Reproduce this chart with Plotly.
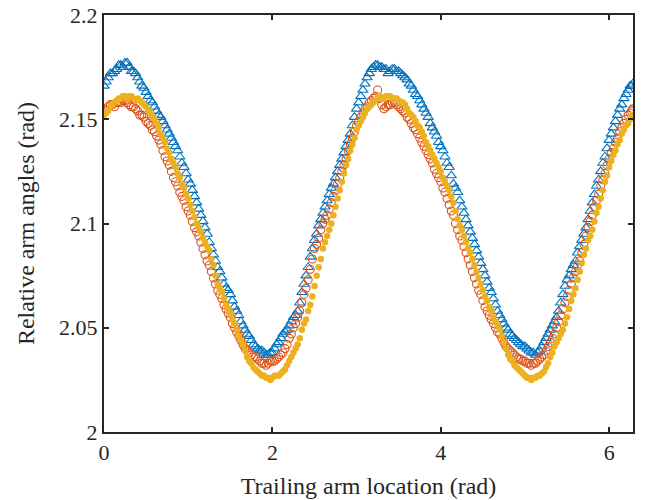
import plotly.graph_objects as go

# Pass 1 samples
ANGLE = [0.00, 0.05, 0.10, 0.15, 0.20, 0.25, 0.30, 0.35, 0.40, 0.45, 0.50, 0.55, 0.60, 0.65, 0.70, 0.75,
         0.80, 0.85, 0.90, 0.95, 1.00, 1.05, 1.10, 1.15, 1.20, 1.25, 1.30, 1.35, 1.40, 1.45, 1.50, 1.55,
         1.60, 1.65, 1.70, 1.75, 1.80, 1.85, 1.90, 1.95, 2.00, 2.05, 2.10, 2.15, 2.20, 2.25, 2.30, 2.35,
         2.40, 2.45, 2.50, 2.55, 2.60, 2.65, 2.70, 2.75, 2.80, 2.85, 2.90, 2.95, 3.00, 3.05, 3.10, 3.15,
         3.20, 3.25, 3.30, 3.35, 3.40, 3.45, 3.50, 3.55, 3.60, 3.65, 3.70, 3.75, 3.80, 3.85, 3.90, 3.95,
         4.00, 4.05, 4.10, 4.15, 4.20, 4.25, 4.30, 4.35, 4.40, 4.45, 4.50, 4.55, 4.60, 4.65, 4.70, 4.75,
         4.80, 4.85, 4.90, 4.95, 5.00, 5.05, 5.10, 5.15, 5.20, 5.25, 5.30, 5.35, 5.40, 5.45, 5.50, 5.55,
         5.60, 5.65, 5.70, 5.75, 5.80, 5.85, 5.90, 5.95, 6.00, 6.05, 6.10, 6.15, 6.20, 6.25, 6.28]

SERIES_BLUE = [2.166, 2.170, 2.172, 2.174, 2.176, 2.177, 2.175, 2.173, 2.170, 2.166, 2.163, 2.159, 2.156, 2.152, 2.149, 2.145,
               2.141, 2.137, 2.132, 2.127, 2.121, 2.116, 2.110, 2.104, 2.098, 2.091, 2.085, 2.079, 2.074, 2.069, 2.066, 2.060,
               2.056, 2.051, 2.047, 2.044, 2.041, 2.039, 2.038, 2.037, 2.038, 2.042, 2.045, 2.048, 2.051, 2.055, 2.058, 2.067,
               2.075, 2.084, 2.092, 2.099, 2.105, 2.111, 2.117, 2.122, 2.128, 2.134, 2.140, 2.147, 2.155, 2.161, 2.167, 2.172,
               2.175, 2.176, 2.175, 2.174, 2.173, 2.174, 2.173, 2.171, 2.169, 2.166, 2.162, 2.159, 2.155, 2.151, 2.146, 2.142,
               2.137, 2.132, 2.127, 2.119, 2.115, 2.108, 2.102, 2.096, 2.090, 2.084, 2.078, 2.072, 2.067, 2.061, 2.056, 2.052,
               2.049, 2.046, 2.044, 2.042, 2.041, 2.039, 2.038, 2.038, 2.041, 2.045, 2.049, 2.053, 2.058, 2.066, 2.073, 2.078,
               2.082, 2.089, 2.095, 2.102, 2.110, 2.118, 2.125, 2.132, 2.140, 2.146, 2.152, 2.157, 2.162, 2.166, 2.167]

SERIES_RED = [2.155, 2.156, 2.157, 2.158, 2.158, 2.159, 2.157, 2.156, 2.154, 2.152, 2.149, 2.147, 2.144, 2.140, 2.135, 2.130,
              2.125, 2.120, 2.115, 2.111, 2.106, 2.101, 2.096, 2.091, 2.085, 2.080, 2.074, 2.068, 2.064, 2.059, 2.055, 2.050,
              2.046, 2.042, 2.039, 2.037, 2.036, 2.034, 2.033, 2.033, 2.034, 2.035, 2.037, 2.040, 2.045, 2.050, 2.055, 2.062,
              2.069, 2.078, 2.088, 2.093, 2.100, 2.104, 2.110, 2.116, 2.122, 2.128, 2.135, 2.141, 2.147, 2.151, 2.155, 2.158,
              2.160, 2.164, 2.157, 2.156, 2.157, 2.158, 2.156, 2.154, 2.151, 2.148, 2.145, 2.141, 2.137, 2.133, 2.129, 2.124,
              2.120, 2.115, 2.109, 2.104, 2.097, 2.092, 2.086, 2.080, 2.074, 2.068, 2.063, 2.058, 2.054, 2.050, 2.047, 2.043,
              2.040, 2.038, 2.036, 2.035, 2.034, 2.033, 2.033, 2.034, 2.036, 2.039, 2.043, 2.047, 2.053, 2.059, 2.065, 2.071,
              2.077, 2.082, 2.090, 2.098, 2.104, 2.111, 2.118, 2.124, 2.131, 2.136, 2.141, 2.146, 2.150, 2.153, 2.155]

SERIES_YELLOW = [2.152, 2.154, 2.157, 2.159, 2.160, 2.161, 2.161, 2.160, 2.160, 2.158, 2.156, 2.153, 2.150, 2.146, 2.141, 2.136,
                 2.131, 2.127, 2.122, 2.117, 2.112, 2.106, 2.100, 2.096, 2.091, 2.087, 2.080, 2.071, 2.067, 2.061, 2.057, 2.052,
                 2.046, 2.042, 2.036, 2.033, 2.030, 2.028, 2.027, 2.026, 2.026, 2.027, 2.028, 2.030, 2.034, 2.038, 2.042, 2.049,
                 2.054, 2.061, 2.070, 2.079, 2.088, 2.094, 2.100, 2.108, 2.116, 2.124, 2.131, 2.138, 2.145, 2.149, 2.153, 2.156,
                 2.158, 2.160, 2.160, 2.161, 2.161, 2.160, 2.159, 2.158, 2.155, 2.152, 2.149, 2.146, 2.142, 2.137, 2.133, 2.129,
                 2.125, 2.120, 2.116, 2.110, 2.102, 2.097, 2.091, 2.086, 2.080, 2.074, 2.068, 2.063, 2.058, 2.053, 2.049, 2.043,
                 2.037, 2.034, 2.031, 2.029, 2.027, 2.026, 2.026, 2.027, 2.028, 2.031, 2.036, 2.041, 2.045, 2.049, 2.055, 2.063,
                 2.069, 2.077, 2.085, 2.092, 2.097, 2.105, 2.112, 2.120, 2.127, 2.133, 2.138, 2.143, 2.147, 2.150, 2.152]

# Pass 2 samples (interleaved positions)
ANGLE_B = [0.025, 0.075, 0.125, 0.175, 0.225, 0.275, 0.325, 0.375, 0.425, 0.475, 0.525, 0.575, 0.625, 0.675, 0.725, 0.775,
           0.825, 0.875, 0.925, 0.975, 1.025, 1.075, 1.125, 1.175, 1.225, 1.275, 1.325, 1.375, 1.425, 1.475, 1.525, 1.575,
           1.625, 1.675, 1.725, 1.775, 1.825, 1.875, 1.925, 1.975, 2.025, 2.075, 2.125, 2.175, 2.225, 2.275, 2.325, 2.375,
           2.425, 2.475, 2.525, 2.575, 2.625, 2.675, 2.725, 2.775, 2.825, 2.875, 2.925, 2.975, 3.025, 3.075, 3.125, 3.175,
           3.225, 3.275, 3.325, 3.375, 3.425, 3.475, 3.525, 3.575, 3.625, 3.675, 3.725, 3.775, 3.825, 3.875, 3.925, 3.975,
           4.025, 4.075, 4.125, 4.175, 4.225, 4.275, 4.325, 4.375, 4.425, 4.475, 4.525, 4.575, 4.625, 4.675, 4.725, 4.775,
           4.825, 4.875, 4.925, 4.975, 5.025, 5.075, 5.125, 5.175, 5.225, 5.275, 5.325, 5.375, 5.425, 5.475, 5.525, 5.575,
           5.625, 5.675, 5.725, 5.775, 5.825, 5.875, 5.925, 5.975, 6.025, 6.075, 6.125, 6.175, 6.225, 6.265]

SERIES_BLUE_B = [2.168, 2.172, 2.173, 2.176, 2.175, 2.177, 2.173, 2.172, 2.168, 2.165, 2.161, 2.158, 2.154, 2.151, 2.147, 2.143,
                 2.139, 2.135, 2.129, 2.124, 2.119, 2.113, 2.107, 2.101, 2.095, 2.088, 2.082, 2.077, 2.071, 2.068, 2.063, 2.058,
                 2.053, 2.049, 2.046, 2.042, 2.040, 2.039, 2.037, 2.038, 2.040, 2.043, 2.047, 2.049, 2.053, 2.056, 2.062, 2.071,
                 2.079, 2.088, 2.095, 2.102, 2.108, 2.114, 2.119, 2.125, 2.131, 2.137, 2.143, 2.151, 2.158, 2.164, 2.170, 2.174,
                 2.176, 2.175, 2.174, 2.172, 2.174, 2.173, 2.172, 2.170, 2.167, 2.164, 2.161, 2.157, 2.153, 2.148, 2.144, 2.139,
                 2.135, 2.129, 2.123, 2.117, 2.111, 2.105, 2.099, 2.093, 2.087, 2.081, 2.075, 2.069, 2.064, 2.058, 2.054, 2.050,
                 2.047, 2.045, 2.043, 2.041, 2.040, 2.038, 2.037, 2.039, 2.043, 2.047, 2.051, 2.055, 2.062, 2.070, 2.075, 2.080,
                 2.086, 2.092, 2.098, 2.106, 2.114, 2.121, 2.129, 2.136, 2.143, 2.149, 2.155, 2.160, 2.164, 2.166]

SERIES_RED_B = [2.154, 2.157, 2.156, 2.158, 2.159, 2.158, 2.156, 2.155, 2.152, 2.151, 2.148, 2.145, 2.142, 2.138, 2.132, 2.128,
                2.122, 2.118, 2.113, 2.108, 2.104, 2.098, 2.094, 2.088, 2.082, 2.077, 2.071, 2.066, 2.061, 2.057, 2.052, 2.048,
                2.044, 2.040, 2.038, 2.036, 2.035, 2.033, 2.032, 2.034, 2.034, 2.036, 2.038, 2.042, 2.047, 2.052, 2.058, 2.066,
                2.073, 2.083, 2.090, 2.097, 2.102, 2.107, 2.113, 2.119, 2.125, 2.131, 2.138, 2.144, 2.149, 2.153, 2.156, 2.159,
                2.161, 2.160, 2.155, 2.157, 2.158, 2.157, 2.155, 2.153, 2.150, 2.146, 2.143, 2.139, 2.135, 2.131, 2.126, 2.122,
                2.117, 2.112, 2.106, 2.100, 2.094, 2.089, 2.083, 2.077, 2.071, 2.066, 2.060, 2.056, 2.052, 2.048, 2.045, 2.041,
                2.039, 2.037, 2.035, 2.034, 2.033, 2.032, 2.033, 2.035, 2.037, 2.041, 2.045, 2.050, 2.056, 2.062, 2.068, 2.074,
                2.080, 2.086, 2.094, 2.101, 2.108, 2.114, 2.121, 2.128, 2.134, 2.139, 2.144, 2.148, 2.152, 2.154]

SERIES_YELLOW_B = [2.153, 2.156, 2.158, 2.160, 2.161, 2.160, 2.161, 2.159, 2.159, 2.157, 2.154, 2.151, 2.148, 2.143, 2.139, 2.134,
                   2.129, 2.124, 2.119, 2.114, 2.109, 2.103, 2.098, 2.093, 2.089, 2.083, 2.075, 2.069, 2.064, 2.059, 2.054, 2.049,
                   2.044, 2.039, 2.034, 2.031, 2.029, 2.027, 2.026, 2.025, 2.027, 2.027, 2.029, 2.032, 2.036, 2.040, 2.045, 2.052,
                   2.058, 2.065, 2.075, 2.083, 2.091, 2.097, 2.104, 2.112, 2.120, 2.128, 2.135, 2.141, 2.147, 2.151, 2.155, 2.157,
                   2.159, 2.161, 2.160, 2.161, 2.160, 2.160, 2.158, 2.157, 2.153, 2.151, 2.147, 2.144, 2.139, 2.135, 2.131, 2.127,
                   2.122, 2.118, 2.113, 2.106, 2.099, 2.094, 2.088, 2.083, 2.077, 2.071, 2.065, 2.060, 2.055, 2.051, 2.046, 2.040,
                   2.035, 2.032, 2.030, 2.028, 2.026, 2.025, 2.026, 2.027, 2.029, 2.033, 2.038, 2.043, 2.047, 2.052, 2.059, 2.066,
                   2.073, 2.081, 2.088, 2.094, 2.101, 2.108, 2.116, 2.123, 2.130, 2.135, 2.140, 2.145, 2.148, 2.151]

X_TICKS = [0, 2, 4, 6]
X_TICK_LABELS = ["0", "2", "4", "6"]
Y_TICKS = [2.0, 2.05, 2.1, 2.15, 2.2]
Y_TICK_LABELS = ["2", "2.05", "2.1", "2.15", "2.2"]

n_a = len(ANGLE)
n_b = len(ANGLE_B)
for s in (SERIES_BLUE, SERIES_RED, SERIES_YELLOW):
    assert len(s) == n_a, len(s)
for s in (SERIES_BLUE_B, SERIES_RED_B, SERIES_YELLOW_B):
    assert len(s) == n_b, len(s)

BLUE = "#0072BD"
RED = "#D95319"
YELLOW = "#EDB120"
FONT = "Liberation Serif, Times New Roman, serif"
AXIS = "#262626"

fig = go.Figure()
fig.add_trace(go.Scatter(x=ANGLE + ANGLE_B, y=SERIES_BLUE + SERIES_BLUE_B, mode="markers",
                         marker=dict(symbol="triangle-up-open", size=9, color=BLUE,
                                     line=dict(width=1.1, color=BLUE)),
                         showlegend=False))
fig.add_trace(go.Scatter(x=ANGLE + ANGLE_B, y=SERIES_RED + SERIES_RED_B, mode="markers",
                         marker=dict(symbol="circle-open", size=8, color=RED,
                                     line=dict(width=1.1, color=RED)),
                         showlegend=False))
fig.add_trace(go.Scatter(x=ANGLE + ANGLE_B, y=SERIES_YELLOW + SERIES_YELLOW_B, mode="markers",
                         marker=dict(symbol="circle", size=6.5, color=YELLOW,
                                     line=dict(width=0)),
                         showlegend=False))

axis_common = dict(showline=True, linecolor=AXIS, linewidth=2, mirror="ticks",
                   ticks="inside", ticklen=5, tickwidth=2, tickcolor=AXIS,
                   showgrid=False, zeroline=False, automargin=False,
                   ticklabeloverflow="allow",
                   tickfont=dict(family=FONT, size=22, color=AXIS))

fig.update_xaxes(range=[0, 6.2832], tickvals=X_TICKS, ticktext=X_TICK_LABELS,
                 title=dict(text="Trailing arm location (rad)", font=dict(family=FONT, size=24, color=AXIS),
                            standoff=13),
                 **axis_common)
fig.update_yaxes(range=[2.0, 2.2], tickvals=Y_TICKS, ticktext=Y_TICK_LABELS,
                 title=dict(text="Relative arm angles (rad)", font=dict(family=FONT, size=24, color=AXIS),
                            standoff=18),
                 **axis_common)

fig.update_layout(width=652, height=500,
                  margin=dict(l=104, r=19, t=15, b=68, autoexpand=False),
                  plot_bgcolor="white", paper_bgcolor="white",
                  hovermode=False,
                  font=dict(family=FONT, size=22, color=AXIS))

# remove the default page margin so the figure sits at the window origin
fig.write_html("out.html", config={"displayModeBar": False},
               post_script="document.body.style.margin='0';")
